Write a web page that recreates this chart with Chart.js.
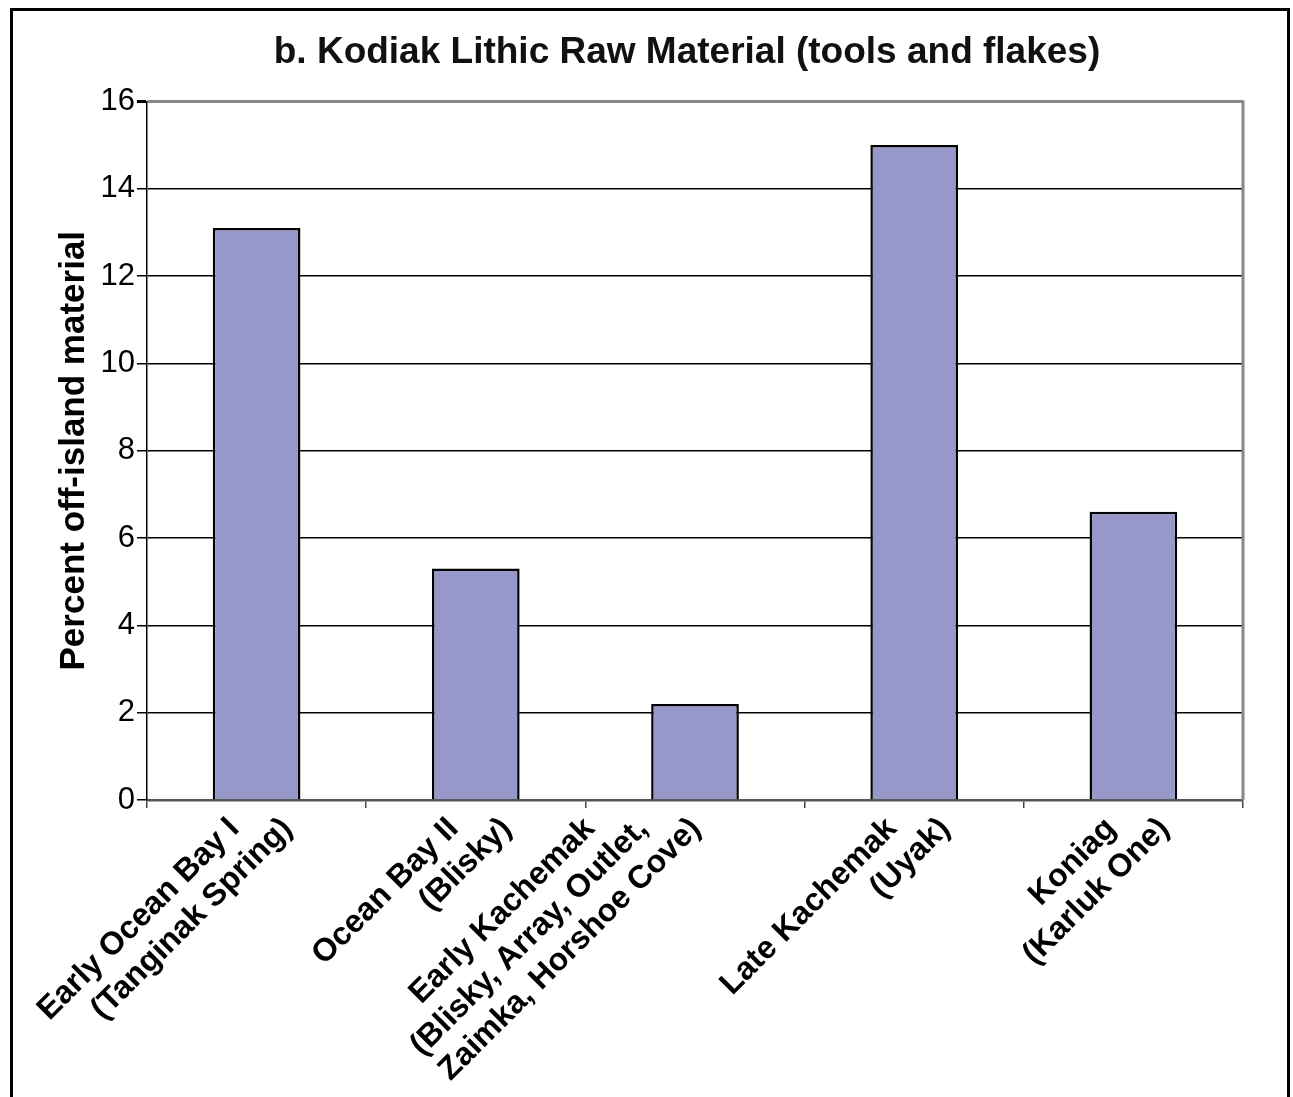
<!DOCTYPE html>
<html>
<head>
<meta charset="utf-8">
<script src="https://cdn.jsdelivr.net/npm/chart.js@4/dist/chart.umd.min.js"></script>
<style>
    html, body { margin: 0; padding: 0; background: #fff; overflow: hidden; }
    #wrap { position: relative; width: 1293px; height: 1097px; }
    #frame {
        position: absolute; left: 10px; top: 8px; width: 1280px; height: 1200px;
        box-sizing: border-box; border: 3px solid #000; pointer-events: none;
    }
</style>
</head>
<body>
<div id="wrap">
    <canvas id="rawChart" width="1293" height="1097"></canvas>
    <div id="frame"></div>
</div>
<script>
const periods = [
    ["Early Ocean Bay I", "(Tanginak Spring)"],
    ["Ocean Bay II", "(Blisky)"],
    ["Early Kachemak", "(Blisky, Array, Outlet,", "Zaimka, Horshoe Cove)"],
    ["Late Kachemak", "(Uyak)"],
    ["Koniag", "(Karluk One)"]
]
const offIsland = [13.1, 5.3, 2.2, 15.0, 6.6]
const yTicks = [0, 2, 4, 6, 8, 10, 12, 14, 16]

const FONT = "Arial, 'Liberation Sans', sans-serif"

// gray right edge of the plot, like the top gridline
const rightEdge = {
    id: "rightEdge",
    afterDraw(chart) {
        const a = chart.chartArea
        const ctx = chart.ctx
        ctx.save()
        ctx.strokeStyle = "#888"
        ctx.lineWidth = 3
        ctx.beginPath()
        ctx.moveTo(a.right, a.top - 1)
        ctx.lineTo(a.right, a.bottom)
        ctx.stroke()
        ctx.restore()
    }
}

// title is centred over the plot, a little left of it
const titleShift = {
    id: "titleShift",
    afterLayout(chart) {
        if (chart.titleBlock) {
            chart.titleBlock.left = chart.chartArea.left - 16
            chart.titleBlock.right = chart.chartArea.right
        }
    }
}

// slanted category labels, lines stepped sideways like the original
const slantLabels = {
    id: "slantLabels",
    afterDraw(chart) {
        const x = chart.scales.x
        const ctx = chart.ctx
        const step = 37.5
        ctx.save()
        ctx.font = "bold 32px " + FONT
        ctx.fillStyle = "#000"
        ctx.textAlign = "right"
        ctx.textBaseline = "alphabetic"
        periods.forEach((lines, i) => {
            const px = x.getPixelForValue(i) - 16 - (lines.length - 2) * 83
            const py = x.top + 30
            ctx.save()
            ctx.translate(px, py)
            ctx.rotate(-Math.PI / 4)
            lines.forEach((line, k) => ctx.fillText(line, k * step, k * step))
            ctx.restore()
        })
        ctx.restore()
    }
}

new Chart(document.getElementById("rawChart"), {
    type: "bar",
    data: {
        labels: periods.map(p => p.join(" ")),
        datasets: [
            {
                label: "Percent off-island material",
                data: offIsland,
                backgroundColor: "#9797C9",
                borderColor: "#000",
                borderWidth: 2.5,
                barPercentage: 0.4,
                categoryPercentage: 1.0
            }
        ]
    },
    options: {
        responsive: false,
        animation: false,
        layout: { padding: { top: 6, left: 0, right: 50, bottom: 0 } },
        plugins: {
            legend: { display: false },
            tooltip: { enabled: false },
            title: {
                display: true,
                text: "b. Kodiak Lithic Raw Material (tools and flakes)",
                color: "#111",
                font: { family: FONT, size: 37, weight: "bold" },
                padding: { top: 25, bottom: 26 }
            }
        },
        scales: {
            x: {
                offset: true,
                grid: {
                    offset: true,
                    drawOnChartArea: false,
                    drawTicks: true,
                    tickLength: 8,
                    color: "#444",
                    lineWidth: 1.5
                },
                border: { color: "#555", width: 2.5 },
                ticks: { display: false },
                afterFit(scale) { scale.height = 297 }
            },
            y: {
                min: 0,
                max: 16,
                afterBuildTicks(scale) { scale.ticks = yTicks.map(v => ({ value: v })) },
                grid: {
                    color: ctx => ctx.tick && ctx.tick.value === 16 ? "#888" : "#000",
                    lineWidth: ctx => ctx.tick && ctx.tick.value === 16 ? 3 : 1.5,
                    tickColor: "#000",
                    tickLength: 10
                },
                border: { color: "#000", width: 1.5 },
                ticks: {
                    padding: 2,
                    color: "#000",
                    font: { family: FONT, size: 31 }
                },
                title: {
                    display: true,
                    text: "Percent off-island material",
                    color: "#000",
                    font: { family: FONT, size: 35, weight: "bold" },
                    padding: { top: 53, bottom: 0 }
                },
                afterFit(scale) { scale.width = 147 }
            }
        }
    },
    plugins: [rightEdge, titleShift, slantLabels]
})
</script>
</body>
</html>
